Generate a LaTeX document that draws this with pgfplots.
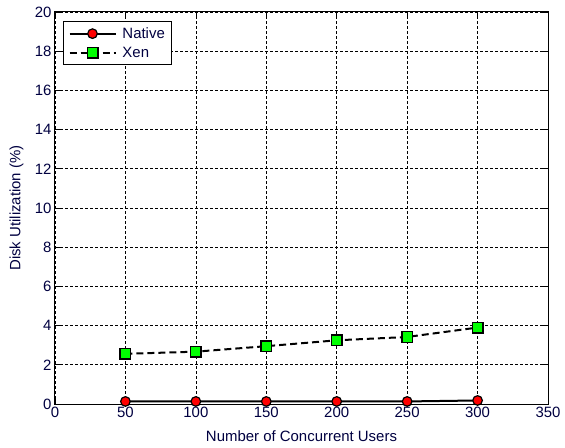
\documentclass[border=0pt]{standalone}
\usepackage{pgfplots}
\pgfplotsset{compat=1.18}
\usepackage{fontspec}
\setmainfont{Liberation Sans}
\begin{document}
\begin{tikzpicture}
\path[use as bounding box] (0bp,0bp) rectangle (565bp,448bp);
\begin{axis}[
  at={(55bp,44bp)}, anchor=south west,
  scale only axis, width=493bp, height=392bp,
  xmin=0, xmax=350, ymin=0, ymax=20,
  xtick={0,50,...,350}, ytick={0,2,...,20},
  grid=major,
  major grid style={black, line width=0.7bp, dash pattern=on 2.5bp off 2.5bp},
  axis line style={black, line width=1bp},
  tick style={black, line width=0.7bp},
  tick align=inside, major tick length=5bp,
  tick label style={font=\fontsize{15}{17}\selectfont, text=black!75!blue},
  label style={font=\fontsize{15}{17}\selectfont, text=black!75!blue},
  /pgf/number format/assume math mode=true,
  xlabel={Number of Concurrent Users},
  ylabel={Disk Utilization (\%)},
  xlabel style={at={(axis description cs:0.5,0)}, anchor=north, yshift=-23bp},
  ylabel style={at={(axis description cs:0,0.5)}, anchor=south, yshift=28bp},
  legend style={at={(axis cs:0,20)}, anchor=north west, xshift=8bp, yshift=-9bp,
    draw=black, line width=1bp, font=\fontsize{15}{17}\selectfont, text=black!75!blue,
    row sep=3bp, inner xsep=5bp, inner ysep=4bp,
    /tikz/every odd column/.append style={column sep=4bp}},
  legend cell align=left,
  legend image code/.code={
    \draw[#1, mark repeat=2, mark phase=2] plot coordinates {(0bp,0bp) (23bp,0bp) (46bp,0bp)};
  },
]
\addplot[black, line width=2bp, mark=*, mark size=4.8bp,
  mark options={solid, fill=red, draw=black, line width=1.2bp}]
  coordinates {(50,0.13) (100,0.13) (150,0.13) (200,0.13) (250,0.13) (300,0.18)};
\addlegendentry{Native}
\addplot[black, line width=2bp, dash pattern=on 7bp off 4bp, mark=square*, mark size=5.3bp,
  mark options={solid, fill=green, draw=black, line width=1.4bp}]
  coordinates {(50,2.56) (100,2.67) (150,2.95) (200,3.25) (250,3.42) (300,3.9)};
\addlegendentry{Xen}
\end{axis}
\end{tikzpicture}
\end{document}
